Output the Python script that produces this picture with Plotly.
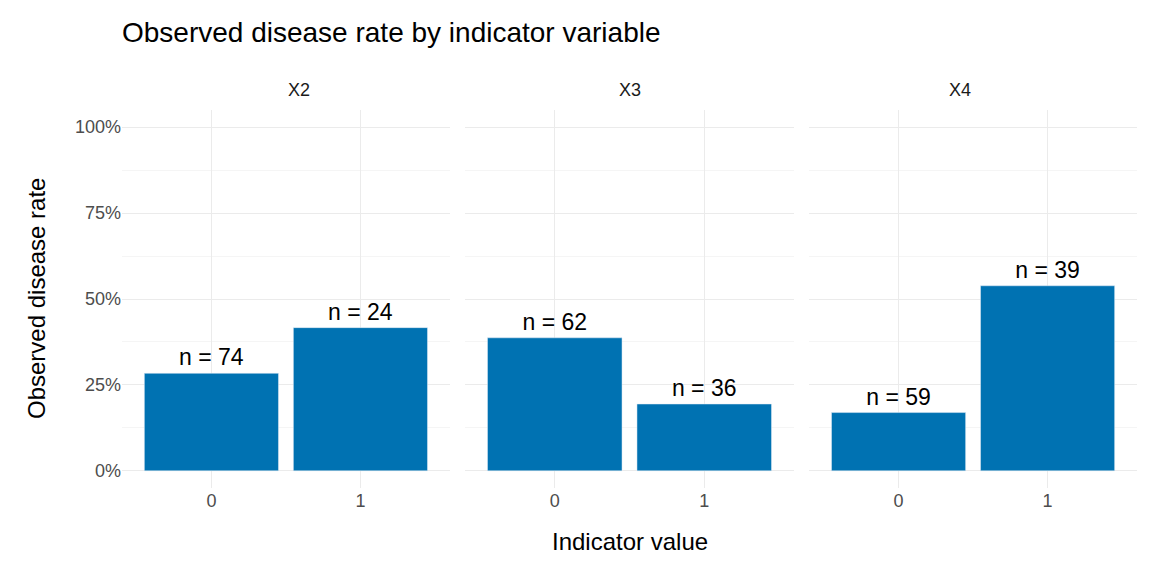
import plotly.graph_objects as go

panels = ["X2", "X3", "X4"]
levels = ["0", "1"]
rates = {"X2": [21/74, 10/24], "X3": [24/62, 7/36], "X4": [10/59, 21/39]}
counts = {"X2": [74, 24], "X3": [62, 36], "X4": [59, 39]}
y_ticks = [0, 0.25, 0.5, 0.75, 1.0]
y_labels = ["0%", "25%", "50%", "75%", "100%"]

domains = [(0, 0.323), (0.338, 0.662), (0.677, 1)]
fig = go.Figure()
for i, p in enumerate(panels):
    ax = "" if i == 0 else str(i + 1)
    fig.add_trace(go.Bar(
        x=[0, 1], y=rates[p], width=0.9, marker_color="#0072B2",
        text=[f"n = {n}" for n in counts[p]], textposition="outside",
        textfont=dict(size=23, color="black"), cliponaxis=False,
        xaxis="x" + ax, yaxis="y" + ax, showlegend=False, hoverinfo="skip"))
    fig.layout["xaxis" + ax] = dict(
        domain=domains[i], range=[-0.6, 1.6], tickvals=[0, 1], ticktext=levels,
        showgrid=True, gridcolor="#ebebeb", zeroline=False,
        tickfont=dict(size=18, color="#4d4d4d"), anchor="y" + ax)
    fig.layout["yaxis" + ax] = dict(
        range=[-0.05, 1.05], tickvals=y_ticks,
        ticktext=y_labels if i == 0 else [""] * 5,
        showticklabels=(i == 0), showgrid=True, gridcolor="#ebebeb",
        zeroline=False, minor=dict(dtick=0.125, showgrid=True, gridcolor="#f5f5f5"),
        tickfont=dict(size=18, color="#4d4d4d"), anchor="x" + ax)
    fig.add_annotation(text=p, x=sum(domains[i]) / 2, y=1.02, xref="paper",
                       yref="paper", showarrow=False, yanchor="bottom",
                       font=dict(size=18, color="#1a1a1a"))

fig.update_layout(
    width=1152, height=576, plot_bgcolor="white", paper_bgcolor="white",
    margin=dict(l=114, r=23, t=102, b=96),
    font=dict(family="Liberation Sans, Arial"),
    title=dict(text="Observed disease rate by indicator variable", x=114/1152,
               xanchor="left", y=0.975, font=dict(size=28, color="black")),
    bargap=0.1)
fig.add_annotation(text="Indicator value", x=0.5, y=-0.1, xref="paper", yref="paper",
                   showarrow=False, yanchor="top", font=dict(size=24, color="black"))
fig.add_annotation(text="Observed disease rate", x=-0.1, y=0.5, xref="paper",
                   yref="paper", showarrow=False, textangle=-90,
                   font=dict(size=24, color="black"))
fig.write_html("out.html")
